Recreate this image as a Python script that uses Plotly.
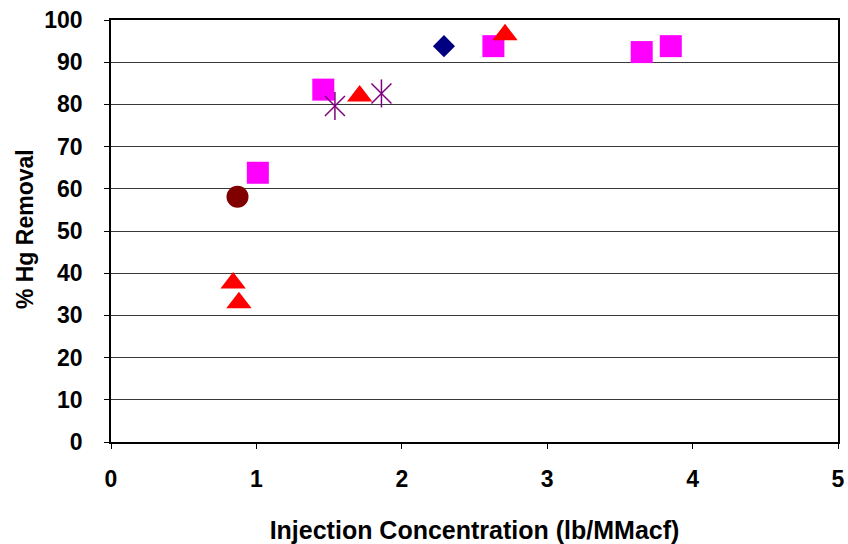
import plotly.graph_objects as go

# Data
circle_x = [0.87]
circle_y = [58.1]

square_x = [1.01, 1.46, 2.63, 3.65, 3.85]
square_y = [63.8, 83.5, 93.8, 92.4, 93.8]

triangle_x = [0.84, 0.88, 1.71, 2.71]
triangle_y = [37.7, 33.0, 82.0, 96.5]

asterisk_x = [1.54, 1.86]
asterisk_y = [79.6, 82.6]

diamond_x = [2.29]
diamond_y = [93.8]

x_ticks = [0, 1, 2, 3, 4, 5]
y_ticks = [0, 10, 20, 30, 40, 50, 60, 70, 80, 90, 100]

x_title = "Injection Concentration (lb/MMacf)"
y_title = "% Hg Removal"

FONT = "Liberation Sans"

fig = go.Figure()
fig.add_trace(go.Scatter(x=circle_x, y=circle_y, mode="markers",
                         marker=dict(symbol="circle", size=22, color="#800000"),
                         showlegend=False))
fig.add_trace(go.Scatter(x=square_x, y=square_y, mode="markers",
                         marker=dict(symbol="square", size=22, color="#FF00FF"),
                         showlegend=False))
fig.add_trace(go.Scatter(x=triangle_x, y=triangle_y, mode="markers",
                         marker=dict(symbol="triangle-up", size=22, color="#FF0000"),
                         showlegend=False))
fig.add_trace(go.Scatter(x=asterisk_x, y=asterisk_y, mode="markers",
                         marker=dict(symbol="x-thin-open", size=20, color="#800080",
                                     line=dict(color="#800080", width=1.5)),
                         showlegend=False))
fig.add_trace(go.Scatter(x=asterisk_x, y=asterisk_y, mode="markers",
                         marker=dict(symbol="line-ns-open", size=20, color="#800080",
                                     line=dict(color="#800080", width=1.5)),
                         showlegend=False))
fig.add_trace(go.Scatter(x=diamond_x, y=diamond_y, mode="markers",
                         marker=dict(symbol="diamond", size=17, color="#000080"),
                         showlegend=False))

fig.update_layout(
    width=848, height=544,
    margin=dict(l=111, r=10, t=20, b=102),
    paper_bgcolor="white", plot_bgcolor="white",
    font=dict(family=FONT, size=23, color="black"),
)
fig.update_xaxes(
    range=[0, 5], tickvals=x_ticks, ticktext=[f"<b>{v}</b>" for v in x_ticks],
    showgrid=False, zeroline=False, automargin=False,
    showline=True, linecolor="black", linewidth=1.5, mirror=True,
    ticks="outside", ticklen=5, tickcolor="black", tickwidth=1,
    tickfont=dict(size=23), ticklabeloverflow="allow",
    ticklabelstandoff=11,
    title=dict(text=f"<b>{x_title}</b>", standoff=40, font=dict(size=25)),
)
fig.update_yaxes(
    range=[0, 100], tickvals=y_ticks, ticktext=[f"<b>{v}</b>" for v in y_ticks],
    showgrid=True, gridcolor="#3a3a3a", gridwidth=1.3, zeroline=False,
    automargin=False,
    showline=True, linecolor="black", linewidth=1.5, mirror=True,
    ticks="outside", ticklen=5, tickcolor="black", tickwidth=1,
    tickfont=dict(size=23), ticklabeloverflow="allow",
    ticklabelstandoff=17,
)
# Y-axis title placed as rotated text, a little further left than Plotly allows
fig.add_annotation(
    text=f"<b>{y_title}</b>", textangle=-90, showarrow=False,
    xref="paper", yref="paper", x=-0.118, y=0.505,
    xanchor="center", yanchor="middle", font=dict(size=23, family=FONT),
)

# Remove the default page margin so the 848x544 figure fills the window exactly
fig.write_html(
    "out.html",
    config={"displayModeBar": False},
    post_script="document.body.style.margin='0';document.body.style.overflow='hidden';",
)
